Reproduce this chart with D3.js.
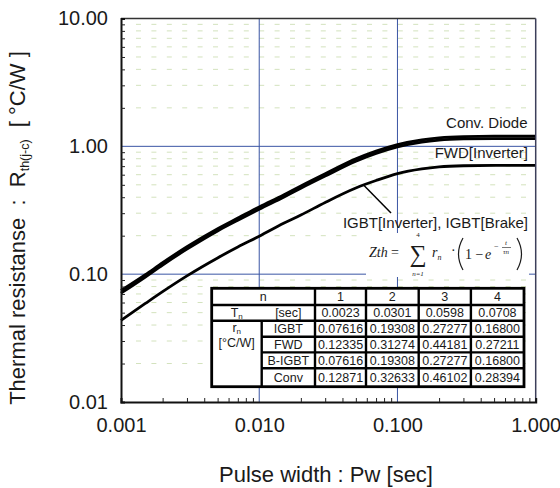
<!DOCTYPE html>
<html>
<head>
<meta charset="utf-8">
<script src="https://cdn.jsdelivr.net/npm/d3@7/dist/d3.min.js"></script>
<style>
  body { margin: 0; background: #fff; }
  svg text { font-family: Arial, "Liberation Sans", sans-serif; fill: #1a1a1a; }
  .serif text { font-family: "Liberation Serif", "Times New Roman", serif; }
</style>
</head>
<body>
<svg id="chart" width="560" height="488"></svg>
<script>
/*
  Data
*/
const pulseWidth = [0.001, 0.0015, 0.002, 0.003, 0.005, 0.007, 0.01, 0.015, 0.02, 0.03, 0.05, 0.07, 0.1, 0.15, 0.2, 0.3, 0.5, 0.7, 1.0]
const convDiode  = [0.0745, 0.099, 0.123, 0.164, 0.227, 0.275, 0.336, 0.417, 0.49, 0.61, 0.798, 0.918, 1.033, 1.125, 1.166, 1.192, 1.2, 1.2, 1.2]
const fwdInv     = [0.071, 0.095, 0.118, 0.157, 0.218, 0.264, 0.322, 0.40, 0.47, 0.585, 0.765, 0.88, 0.99, 1.08, 1.118, 1.142, 1.15, 1.15, 1.15]
const igbt       = [0.0435, 0.059, 0.073, 0.097, 0.134, 0.163, 0.198, 0.25, 0.29, 0.364, 0.472, 0.54, 0.611, 0.665, 0.69, 0.705, 0.71, 0.71, 0.71]

const xTickValues = [0.001, 0.01, 0.1, 1]
const xTickLabels = ['0.001', '0.010', '0.100', '1.000']
const yTickValues = [0.01, 0.1, 1, 10]
const yTickLabels = ['0.01', '0.10', '1.00', '10.00']

//table contents
const tableN      = ['1', '2', '3', '4']
const tableTau    = ['0.0023', '0.0301', '0.0598', '0.0708']
const tableRows   = ['IGBT', 'FWD', 'B-IGBT', 'Conv']
const tableValues = [
	['0.07616', '0.19308', '0.27277', '0.16800'],
	['0.12335', '0.31274', '0.44181', '0.27211'],
	['0.07616', '0.19308', '0.27277', '0.16800'],
	['0.12871', '0.32633', '0.46102', '0.28394']
]

/*
  Layout
*/
const [plotL, plotR, plotT, plotB] = [121, 535.7, 18.5, 402]
const svg = d3.select('#chart')
const x = d3.scaleLog().domain([0.001, 1]).range([plotL, plotR])
const y = d3.scaleLog().domain([0.01, 10]).range([plotB, plotT])
const gridBlue = '#3a55a4'
const isMinor = v => Math.abs(Math.log10(v) - Math.round(Math.log10(v))) > 1e-6

//minor dashed lines (2..9 in each decade)
const minorY = y.ticks().filter(isMinor)
svg.append('g').selectAll('line').data(minorY).join('line')
	.attr('x1', plotL + 15).attr('x2', plotR - 8)
	.attr('y1', d => y(d)).attr('y2', d => y(d))
	.attr('stroke', '#d3e2bd').attr('stroke-width', 1).attr('stroke-dasharray', '5,10.4')

//major blue grid
svg.append('g').selectAll('line').data([0.1, 1]).join('line')
	.attr('x1', plotL).attr('x2', plotR)
	.attr('y1', d => y(d)).attr('y2', d => y(d))
	.attr('stroke', gridBlue).attr('stroke-width', 1)
svg.append('g').selectAll('line').data([0.01, 0.1]).join('line')
	.attr('y1', plotT).attr('y2', plotB)
	.attr('x1', d => x(d)).attr('x2', d => x(d))
	.attr('stroke', gridBlue).attr('stroke-width', 1)

//formula box (white) hides grid behind it
svg.append('rect').attr('x', 366).attr('y', 233).attr('width', 163).attr('height', 44).attr('fill', '#fff')

//curves
const line = d3.line().x((d, i) => x(pulseWidth[i])).y(d => y(d)).curve(d3.curveMonotoneX)
const curves = svg.append('g')
;[convDiode, fwdInv, igbt].forEach(series => {
	curves.append('path').attr('d', line(series))
		.attr('fill', 'none').attr('stroke', '#000').attr('stroke-width', 2.8)
})

//frame
svg.append('line').attr('x1', plotL).attr('x2', plotR).attr('y1', plotT).attr('y2', plotT).attr('stroke', '#333').attr('stroke-width', 1.5)
svg.append('line').attr('x1', plotR).attr('x2', plotR).attr('y1', plotT).attr('y2', plotB).attr('stroke', '#3c3f5a').attr('stroke-width', 1.5)

//axes: minor inward ticks
const minorX = x.ticks().filter(isMinor)
const yMinorAxis = svg.append('g').attr('transform', `translate(${plotL},0)`)
	.call(d3.axisLeft(y).tickValues(minorY).tickSize(-4).tickFormat(''))
const xMinorAxis = svg.append('g').attr('transform', `translate(0,${plotB})`)
	.call(d3.axisBottom(x).tickValues(minorX).tickSize(-4).tickFormat(''))
;[yMinorAxis, xMinorAxis].forEach(g => {
	g.select('.domain').attr('stroke', '#111').attr('stroke-width', 2)
	g.selectAll('.tick line').attr('stroke', '#222').attr('stroke-width', 1)
})

//axis labels
const yLabelAxis = svg.append('g').attr('transform', `translate(${plotL},0)`)
	.call(d3.axisLeft(y).tickValues(yTickValues).tickSize(0).tickPadding(13).tickFormat((d, i) => yTickLabels[i]))
const xLabelAxis = svg.append('g').attr('transform', `translate(0,${plotB})`)
	.call(d3.axisBottom(x).tickValues(xTickValues).tickSize(0).tickPadding(15.5).tickFormat((d, i) => xTickLabels[i]))
;[yLabelAxis, xLabelAxis].forEach(g => {
	g.select('.domain').remove()
	g.selectAll('text').attr('font-size', 20).attr('font-family', 'Arial, "Liberation Sans", sans-serif').attr('fill', '#1a1a1a')
})

//axis titles
svg.append('text').attr('x', 326).attr('y', 482).attr('text-anchor', 'middle').attr('font-size', 22)
	.text('Pulse width : Pw [sec]')
const yTitle = svg.append('text').attr('transform', 'translate(25,228) rotate(-90)')
	.attr('text-anchor', 'middle').attr('font-size', 22).style('white-space', 'pre')
yTitle.append('tspan').text('Thermal resistanse  :  R')
yTitle.append('tspan').attr('font-size', 12.5).attr('dy', 4).text('th(j-c)')
yTitle.append('tspan').attr('dy', -4).text('  [ °C/W ]')

//series labels
svg.append('text').attr('x', 527.5).attr('y', 128).attr('text-anchor', 'end').attr('font-size', 15).text('Conv. Diode')
svg.append('text').attr('x', 528).attr('y', 158).attr('text-anchor', 'end').attr('font-size', 15).text('FWD[Inverter]')
svg.append('text').attr('x', 528).attr('y', 228).attr('text-anchor', 'end').attr('font-size', 15).text('IGBT[Inverter], IGBT[Brake]')
const leader = [[0.0566, 0.5], [0.0898, 0.301]]
svg.append('line')
	.attr('x1', x(leader[0][0])).attr('y1', y(leader[0][1]))
	.attr('x2', x(leader[1][0])).attr('y2', y(leader[1][1]))
	.attr('stroke', '#000').attr('stroke-width', 1.5)

/*
  Formula  Zth = sum r_n (1 - e^(-t/tau_n))
*/
const f = svg.append('g').attr('class', 'serif')
f.append('text').attr('x', 369).attr('y', 257).attr('font-size', 14).attr('font-style', 'italic').text('Zth')
f.append('text').attr('x', 391).attr('y', 257).attr('font-size', 14).text('=')
f.append('text').attr('x', 418).attr('y', 262).attr('font-size', 24).attr('text-anchor', 'middle').text('∑')
f.append('text').attr('x', 418).attr('y', 237).attr('font-size', 7).attr('text-anchor', 'middle').text('4')
f.append('text').attr('x', 418).attr('y', 276).attr('font-size', 7).attr('text-anchor', 'middle').attr('font-style', 'italic').text('n=1')
const rn = f.append('text').attr('x', 432).attr('y', 257).attr('font-size', 14).attr('font-style', 'italic')
rn.append('tspan').text('r')
rn.append('tspan').attr('font-size', 8).attr('dy', 3).text('n')
f.append('text').attr('x', 451).attr('y', 255).attr('font-size', 14).text('·')
f.append('path').attr('d', 'M463,238 Q454,254 463,270').attr('fill', 'none').attr('stroke', '#1a1a1a').attr('stroke-width', 1.2)
f.append('path').attr('d', 'M517,238 Q526,254 517,270').attr('fill', 'none').attr('stroke', '#1a1a1a').attr('stroke-width', 1.2)
f.append('text').attr('x', 465).attr('y', 259).attr('font-size', 14).text('1 − ')
f.append('text').attr('x', 485).attr('y', 259).attr('font-size', 14).attr('font-style', 'italic').text('e')
f.append('text').attr('x', 494).attr('y', 249).attr('font-size', 8).text('−')
f.append('text').attr('x', 506).attr('y', 245).attr('font-size', 7).attr('font-style', 'italic').attr('text-anchor', 'middle').text('t')
f.append('line').attr('x1', 502).attr('x2', 511).attr('y1', 247.5).attr('y2', 247.5).attr('stroke', '#1a1a1a').attr('stroke-width', 0.6)
f.append('text').attr('x', 506).attr('y', 254).attr('font-size', 7).attr('font-style', 'italic').attr('text-anchor', 'middle').text('τn')

/*
  Table
*/
const colX = [211.7, 261.7, 315, 366, 418.7, 470.9, 524]
const rowY = [288.3, 305, 320.8, 336.7, 352.4, 368.3, 386.7]
const table = svg.append('g')
table.append('rect').attr('x', colX[0]).attr('y', rowY[0]).attr('width', colX[6] - colX[0]).attr('height', rowY[6] - rowY[0])
	.attr('fill', '#fff')
const tLine = (x1, y1, x2, y2) => table.append('line').attr('x1', x1).attr('y1', y1).attr('x2', x2).attr('y2', y2)
	.attr('stroke', '#000').attr('stroke-width', 2.4)
tLine(colX[0], rowY[1], colX[6], rowY[1])
tLine(colX[0], rowY[2], colX[6], rowY[2])
;[3, 4, 5].forEach(r => tLine(colX[1], rowY[r], colX[6], rowY[r]))
tLine(colX[1], rowY[2], colX[1], rowY[6])
;[2, 3, 4, 5].forEach(c => tLine(colX[c], rowY[0], colX[c], rowY[6]))
table.append('rect').attr('x', colX[0]).attr('y', rowY[0]).attr('width', colX[6] - colX[0]).attr('height', rowY[6] - rowY[0])
	.attr('fill', 'none').attr('stroke', '#000').attr('stroke-width', 2.8)

const mid = (a, b) => (a + b) / 2
const cell = (cx, cy, txt) => table.append('text').attr('x', cx).attr('y', cy).attr('dy', '0.36em')
	.attr('text-anchor', 'middle').attr('font-size', 12.5).text(txt)
cell(mid(colX[0], colX[2]), mid(rowY[0], rowY[1]), 'n')
tableN.forEach((t, i) => cell(mid(colX[i + 2], colX[i + 3]), mid(rowY[0], rowY[1]), t))
const tn = cell(mid(colX[0], colX[1]), mid(rowY[1], rowY[2]), 'T')
tn.append('tspan').attr('font-size', 8).attr('dy', 2).text('n')
cell(mid(colX[1], colX[2]), mid(rowY[1], rowY[2]), '[sec]')
tableTau.forEach((t, i) => cell(mid(colX[i + 2], colX[i + 3]), mid(rowY[1], rowY[2]), t))
const rnCell = cell(mid(colX[0], colX[1]), mid(rowY[2], rowY[3]) - 1, 'r')
rnCell.append('tspan').attr('font-size', 8).attr('dy', 2).text('n')
cell(mid(colX[0], colX[1]), mid(rowY[3], rowY[4]) - 2, '[°C/W]')
tableRows.forEach((name, r) => {
	cell(mid(colX[1], colX[2]), mid(rowY[r + 2], rowY[r + 3]), name)
	tableValues[r].forEach((v, i) => cell(mid(colX[i + 2], colX[i + 3]), mid(rowY[r + 2], rowY[r + 3]), v))
})
</script>
</body>
</html>
